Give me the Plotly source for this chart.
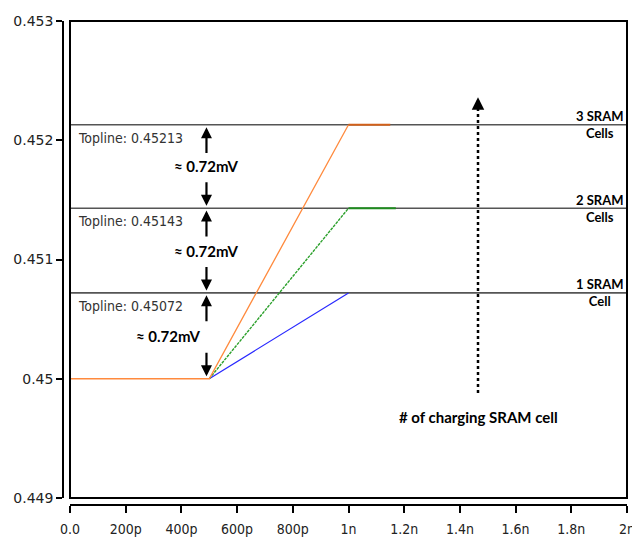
import plotly.graph_objects as go

# ---------------- data ----------------
x_range = [0.0, 2.0]            # ns
y_range = [0.449, 0.453]
x_tickvals = [0, 0.2, 0.4, 0.6, 0.8, 1.0, 1.2, 1.4, 1.6, 1.8, 2.0]
x_ticktext = ["0.0", "200p", "400p", "600p", "800p", "1n", "1.2n", "1.4n", "1.6n", "1.8n", "2n"]
y_tickvals = [0.449, 0.450, 0.451, 0.452, 0.453]
y_ticktext = ["0.449", "0.45", "0.451", "0.452", "0.453"]

toplines = [0.45213, 0.45143, 0.45072]
topline_labels = ["Topline: 0.45213", "Topline: 0.45143", "Topline: 0.45072"]
cell_labels = ["3 SRAM<br>Cells", "2 SRAM<br>Cells", "1 SRAM<br>Cell"]

blue_x = [0.5, 1.0]
blue_y = [0.45, 0.45072]
green_x = [0.5, 1.0]
green_y = [0.45, 0.45143]
green_flat_x = [1.0, 1.17]
green_flat_y = [0.45143, 0.45143]
orange_x = [0.0, 0.5, 1.0]
orange_y = [0.45, 0.45, 0.45213]
orange_flat_x = [1.0, 1.15]
orange_flat_y = [0.45213, 0.45213]

delta_label = "≈ 0.72mV"
intervals = [(0.45143, 0.45213), (0.45072, 0.45143), (0.45, 0.45072)]
arrow_x = 0.49
delta_text_x = [0.49, 0.49, 0.355]

charge_x = 1.465
charge_y = [0.44988, 0.4523]
charge_tip = 0.45236
charge_label = "# of charging SRAM cell"
charge_label_y = 0.44968

# ---------------- figure ----------------
W, H = 632, 539
ml, mr, mt, mb = 63, 5, 21, 34
pw = W - ml - mr
ph = H - mt - mb
gap = 7

COND = "DejaVu Sans Condensed, DejaVu Sans, sans-serif"
BOLDF = "Lato, Liberation Sans, Arial, sans-serif"

fig = go.Figure()

for yv in toplines:
    fig.add_trace(go.Scatter(x=x_range, y=[yv, yv], mode="lines",
                             line=dict(color="#555555", width=1.6), hoverinfo="skip"))

fig.add_trace(go.Scatter(x=blue_x, y=blue_y, mode="lines", line=dict(color="#2828ff", width=1.2)))
fig.add_trace(go.Scatter(x=green_x, y=green_y, mode="lines",
                         line=dict(color="#2ca02c", width=1.4, dash="3px,1px")))
fig.add_trace(go.Scatter(x=green_flat_x, y=green_flat_y, mode="lines",
                         line=dict(color="#1e8c1e", width=2)))
fig.add_trace(go.Scatter(x=orange_x, y=orange_y, mode="lines", line=dict(color="#ff8a3d", width=1.3)))
fig.add_trace(go.Scatter(x=orange_flat_x, y=orange_flat_y, mode="lines",
                         line=dict(color="#d2601a", width=2)))

# dotted arrow shaft
fig.add_trace(go.Scatter(x=[charge_x, charge_x], y=charge_y, mode="lines",
                         line=dict(color="black", width=2.5, dash="dot")))

annotations = []
bold = dict(family=BOLDF, size=15, color="black")
for (lo, hi), tx in zip(intervals, delta_text_x):
    mid = (lo + hi) / 2
    annotations.append(dict(x=arrow_x, y=hi - 0.00002, ax=arrow_x, ay=hi - 0.00025,
                            xref="x", yref="y", axref="x", ayref="y", text="",
                            showarrow=True, arrowhead=2, arrowsize=1, arrowwidth=2.2,
                            arrowcolor="black"))
    annotations.append(dict(x=arrow_x, y=lo + 0.00002, ax=arrow_x, ay=lo + 0.00023,
                            xref="x", yref="y", axref="x", ayref="y", text="",
                            showarrow=True, arrowhead=2, arrowsize=1, arrowwidth=2.2,
                            arrowcolor="black"))
    annotations.append(dict(x=tx, y=mid, xref="x", yref="y", text="<b>%s</b>" % delta_label,
                            showarrow=False, font=bold, xanchor="center", yanchor="middle"))

for yv, lab in zip(toplines, topline_labels):
    annotations.append(dict(x=0.02, y=yv, xref="x", yref="y", text=lab, showarrow=False,
                            xanchor="left", yanchor="top", yshift=-3,
                            font=dict(family=COND, size=14, color="#333333")))

for yv, lab in zip(toplines, cell_labels):
    annotations.append(dict(x=x_range[1], y=yv, xref="x", yref="y", text="<b>%s</b>" % lab,
                            showarrow=False, xanchor="right", yanchor="middle", xshift=-1,
                            align="center",
                            font=dict(family=BOLDF, size=13, color="black")))

annotations.append(dict(x=charge_x, y=charge_tip, ax=charge_x, ay=charge_y[1] - 0.00002,
                        xref="x", yref="y", axref="x", ayref="y", text="",
                        showarrow=True, arrowhead=2, arrowsize=1, arrowwidth=2.5,
                        arrowcolor="black"))
annotations.append(dict(x=charge_x, y=charge_label_y, xref="x", yref="y",
                        text="<b>%s</b>" % charge_label, showarrow=False, font=bold,
                        xanchor="center", yanchor="middle"))

fig.update_layout(
    width=W, height=H,
    margin=dict(l=ml, r=mr, t=mt, b=mb, pad=0),
    paper_bgcolor="white", plot_bgcolor="white",
    showlegend=False,
    annotations=annotations,
    shapes=[dict(type="rect", xref="x domain", yref="y domain", x0=0, x1=1, y0=0, y1=1,
                 line=dict(color="black", width=2), layer="above")],
    xaxis=dict(range=x_range, domain=[gap / pw, 1], anchor="free", position=0,
               showgrid=False, zeroline=False, showline=True, linecolor="black", linewidth=1.5,
               ticks="outside", ticklen=7, tickwidth=1.5, tickcolor="black",
               tickvals=x_tickvals, ticktext=x_ticktext, automargin=False,
               ticklabeloverflow="allow", ticklabelstandoff=4,
               tickfont=dict(family=COND, size=14, color="#222222")),
    yaxis=dict(range=y_range, domain=[gap / ph, 1], anchor="free", position=0,
               showgrid=False, zeroline=False, showline=True, linecolor="black", linewidth=1.5,
               ticks="outside", ticklen=6, tickwidth=1.5, tickcolor="black",
               tickvals=y_tickvals, ticktext=y_ticktext, automargin=False,
               tickfont=dict(family="DejaVu Sans", size=14, color="#222222")),
)

fig.write_html("out.html")
